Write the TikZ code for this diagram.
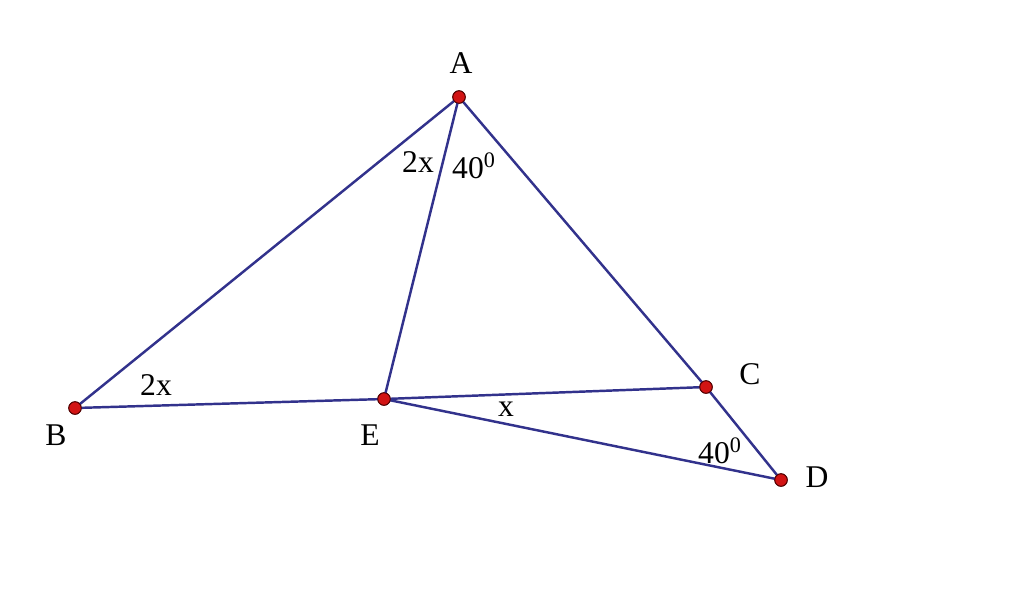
\documentclass[tikz,border=0pt]{standalone}
\usepackage{fontspec}
\setmainfont{Liberation Serif}
\definecolor{segblue}{RGB}{50, 50, 140}
\definecolor{ptred}{RGB}{210, 20, 20}
\usetikzlibrary{positioning, calc}

\begin{document}
\begin{tikzpicture}[x=0.02cm, y=-0.02cm,
  pt/.style={circle, fill=ptred, draw=black!70!red, line width=0.5pt, inner sep=0pt, minimum size=0.25cm},
  seg/.style={draw=segblue, line width=1.4pt},
  lbl/.style={font=\fontsize{18}{21}\selectfont, inner sep=1pt}]
  \useasboundingbox (0,0) rectangle (1024,600);

  % Points
  \node[pt] (A) at (459, 97) {};
  \node[pt] (B) at (75, 408) {};
  \node[pt] (E) at (384, 399) {};
  \node[pt] (C) at (706, 387) {};
  \node[pt] (D) at (781, 480) {};

  % Segments
  \draw[seg] (A.center) -- (B.center);
  \draw[seg] (A.center) -- (E.center);
  \draw[seg] (A.center) -- (C.center);
  \draw[seg] (B.center) -- (E.center);
  \draw[seg] (E.center) -- (C.center);
  \draw[seg] (E.center) -- (D.center);
  \draw[seg] (C.center) -- (D.center);

  % Redraw points on top
  \foreach \p in {A, B, E, C, D}
    \node[pt] at (\p) {};

  % Point names
  \node[lbl] (labA) at (461, 63) {A};
  \node[lbl] (labB) at (56, 435) {B};
  \node[lbl] (labE) at (370, 435) {E};
  \node[lbl] (labC) at (750, 374) {C};
  \node[lbl] (labD) at (817, 477) {D};

  % Angles
  \node[lbl] (angBAE) at (418, 162) {2x};
  \node[lbl] (angEAC) at (474, 166) {40\textsuperscript{0}};
  \node[lbl] (angABE) at (156, 385) {2x};
  \node[lbl] (angCED) at (506, 409) {x};
  \node[lbl] (angEDC) at (720, 451) {40\textsuperscript{0}};
\end{tikzpicture}
\end{document}
